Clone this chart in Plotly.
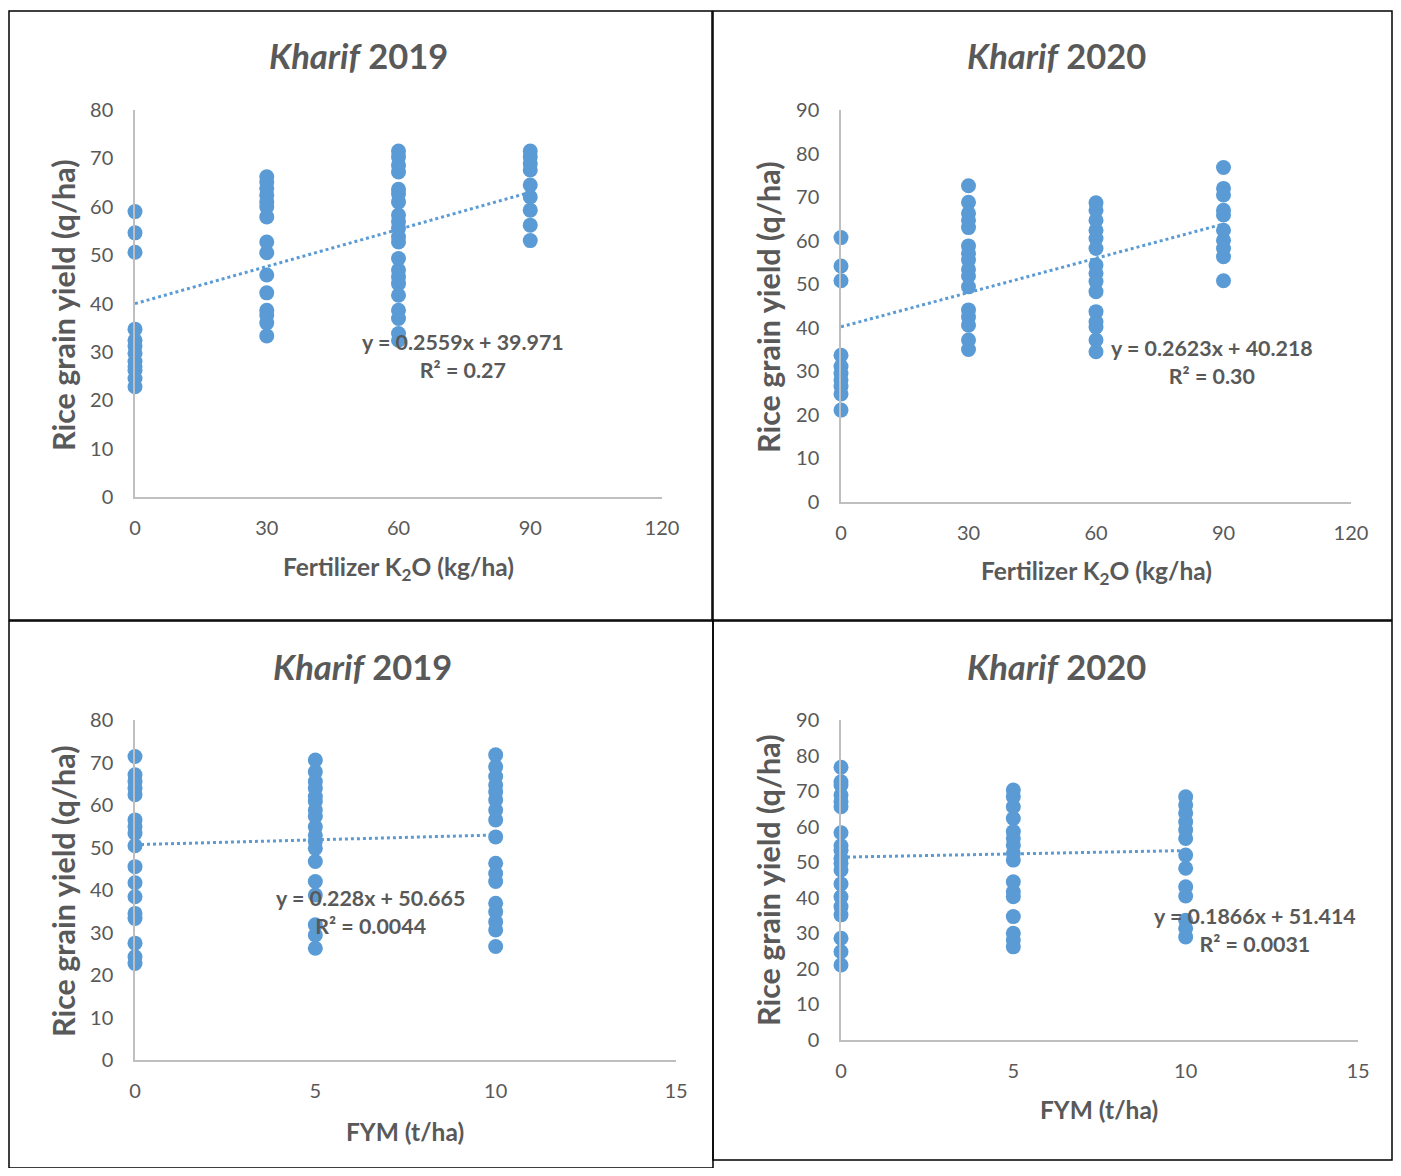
import plotly.graph_objects as go

# page body adds an 8px margin; the figure is sized so the picture fits the window
OFF = 8
W, H = 1401 - 2 * OFF, 1176 - 2 * OFF

# ---------------- data ----------------
k2019_y = {
    0: [59, 54.6, 50.6, 34.7, 32.4, 31.2, 29.7, 28, 27, 26.2, 24.5, 22.8],
    30: [66.2, 65.1, 63.8, 62.4, 61, 60, 57.9, 52.7, 50.5, 45.9, 42.2, 38.6, 37.6, 36, 33.3],
    60: [71.5, 70.3, 68.6, 67.2, 63.6, 62.7, 61, 58.3, 56.9, 55.5, 53.8, 52.7, 49.3, 46.9,
         45.5, 44.1, 41.7, 38.6, 36.9, 33.8, 32.4],
    90: [71.5, 70.3, 68.9, 67.6, 64.5, 62, 59.3, 56.2, 53],
}
k2020_y = {
    0: [60.7, 54.2, 50.8, 33.7, 31.1, 29.5, 28, 26.5, 24.8, 21.1],
    30: [72.6, 68.8, 66.3, 64.7, 63, 58.8, 57.1, 55.6, 53.4, 51.9, 49.4, 44.1, 42.5, 40.6, 37.2, 35],
    60: [68.7, 67, 64.7, 62.4, 60.5, 58.2, 54.4, 52.5, 50.6, 48.3, 43.7, 41.4, 40.2, 37.2, 34.5],
    90: [76.8, 72, 70.5, 67, 65.9, 62.4, 60.1, 58.2, 56.3, 50.8],
}
f2019_y = {
    0: [71.4, 67.1, 65.5, 63.9, 62.4, 56.5, 54.9, 53.3, 50.4, 45.5, 41.7, 38.4, 34.5, 33.3,
        27.5, 24.3, 22.7],
    5: [70.6, 67.8, 65.5, 63.9, 62, 60.8, 58.8, 57.3, 54.9, 52.9, 51.4, 49.8, 46.7, 42,
        38.8, 31.8, 29.4, 26.3],
    10: [71.8, 69, 66.7, 64.7, 63.1, 61.2, 58.8, 56.5, 52.5, 46.3, 43.9, 42, 36.9, 34.9,
         32.5, 30.6, 26.7],
}
f2020_y = {
    0: [76.7, 72.6, 71.7, 68.9, 67, 65.6, 58.3, 54.6, 53.4, 51.1, 49.7, 47.8, 43.9, 40.3,
        37.5, 35.2, 28.6, 24.8, 21.1],
    5: [70.3, 68.4, 65.6, 62.3, 58.6, 56.7, 54.8, 52.5, 50.6, 44.5, 41.7, 40.3, 34.7, 30,
        28.1, 26.2],
    10: [68.4, 66.1, 63.8, 61.4, 59.1, 56.7, 52, 48.3, 43.1, 40.5, 33.7, 31.4, 29],
}

# trendline equations (slope, intercept) and R²
trend_k2019 = (0.2559, 39.971, "0.27")
trend_k2020 = (0.2623, 40.218, "0.30")
trend_f2019 = (0.228, 50.665, "0.0044")
trend_f2020 = (0.1866, 51.414, "0.0031")

k2o_ticks = [0, 30, 60, 90, 120]
fym_ticks = [0, 5, 10, 15]

# ---------------- helpers ----------------
def px(x):
    return (x - OFF) / W

def py(y):
    return 1 - (y - OFF) / H

BLUE = "#5B9BD5"
GRAY_TXT = "#595959"
FONT = "Lato, Carlito, Calibri, sans-serif"

fig = go.Figure()

panels = [
    dict(data=k2019_y, trend=trend_k2019, ticks=k2o_ticks, xmax=120, ymax=80,
         xd=(135, 662), yd=(110, 497), title="<i>Kharif</i> 2019",
         xt="Fertilizer K<sub>2</sub>O (kg/ha)", tx=358, ty=55, xtx=398, xty=568,
         ytx=63, yty=305, eqx=463, eqy=356, xmaxfit=90),
    dict(data=k2020_y, trend=trend_k2020, ticks=k2o_ticks, xmax=120, ymax=90,
         xd=(841, 1351), yd=(110, 502), title="<i>Kharif</i> 2020",
         xt="Fertilizer K<sub>2</sub>O (kg/ha)", tx=1056, ty=55, xtx=1096, xty=573,
         ytx=768, yty=307, eqx=1212, eqy=362, xmaxfit=90),
    dict(data=f2019_y, trend=trend_f2019, ticks=fym_ticks, xmax=15, ymax=80,
         xd=(135, 676), yd=(720, 1060), title="<i>Kharif</i> 2019",
         xt="FYM (t/ha)", tx=362, ty=666, xtx=405, xty=1131,
         ytx=63, yty=891, eqx=370, eqy=912, xmaxfit=10),
    dict(data=f2020_y, trend=trend_f2020, ticks=fym_ticks, xmax=15, ymax=90,
         xd=(841, 1358), yd=(720, 1040), title="<i>Kharif</i> 2020",
         xt="FYM (t/ha)", tx=1056, ty=666, xtx=1099, xty=1109,
         ytx=768, yty=880, eqx=1255, eqy=930, xmaxfit=10),
]

annotations = []
for i, p in enumerate(panels, start=1):
    xa = "x" if i == 1 else f"x{i}"
    ya = "y" if i == 1 else f"y{i}"
    xs, ys = [], []
    for lvl, vals in p["data"].items():
        xs += [lvl] * len(vals)
        ys += vals
    slope, icpt, r2 = p["trend"]
    fx = [0, p["xmaxfit"]]
    fy = [icpt + slope * v for v in fx]
    fig.add_trace(go.Scatter(x=fx, y=fy, mode="lines", xaxis=xa, yaxis=ya,
                             line=dict(color=BLUE, width=3, dash="dot"),
                             hoverinfo="skip", showlegend=False, cliponaxis=False))
    fig.add_trace(go.Scatter(x=xs, y=ys, mode="markers", xaxis=xa, yaxis=ya,
                             marker=dict(color=BLUE, size=15, line=dict(width=0)),
                             showlegend=False, cliponaxis=False))
    axkey = "xaxis" if i == 1 else f"xaxis{i}"
    aykey = "yaxis" if i == 1 else f"yaxis{i}"
    fig.update_layout(**{
        axkey: dict(domain=[px(p["xd"][0]), px(p["xd"][1])], range=[0, p["xmax"]],
                    tickvals=p["ticks"], showgrid=False, zeroline=False,
                    showline=True, linecolor="#BFBFBF", linewidth=1.5,
                    tickfont=dict(family=FONT, size=20, color=GRAY_TXT),
                    ticklabelstandoff=12, anchor=ya, fixedrange=True, automargin=False),
        aykey: dict(domain=[py(p["yd"][1]), py(p["yd"][0])], range=[0, p["ymax"]],
                    dtick=10, showgrid=False, zeroline=False,
                    showline=True, linecolor="#BFBFBF", linewidth=1.5,
                    tickfont=dict(family=FONT, size=20, color=GRAY_TXT),
                    ticklabelstandoff=16, anchor=xa, fixedrange=True, automargin=False),
    })
    annotations.append(dict(x=px(p["tx"]), y=py(p["ty"]), xref="paper", yref="paper",
                            xanchor="center", yanchor="middle",
                            text=f"<b>{p['title']}</b>", showarrow=False,
                            font=dict(family=FONT, size=34.5, color=GRAY_TXT)))
    annotations.append(dict(x=px(p["xtx"]), y=py(p["xty"]), xref="paper", yref="paper",
                            xanchor="center", yanchor="middle",
                            text=f"<b>{p['xt']}</b>", showarrow=False,
                            font=dict(family=FONT, size=24.5, color=GRAY_TXT)))
    annotations.append(dict(x=px(p["ytx"]), y=py(p["yty"]), xref="paper", yref="paper",
                            xanchor="center", yanchor="middle",
                            text="<b>Rice grain yield (q/ha)</b>", showarrow=False,
                            textangle=-90,
                            font=dict(family=FONT, size=30.5, color=GRAY_TXT)))
    sign = "+" if icpt >= 0 else "-"
    annotations.append(dict(x=px(p["eqx"]), y=py(p["eqy"]), xref="paper", yref="paper",
                            xanchor="center", yanchor="middle",
                            text=f"<b>y = {slope}x {sign} {abs(icpt)}<br>R² = {r2}</b>",
                            showarrow=False, align="center",
                            font=dict(family=FONT, size=21.4, color=GRAY_TXT)))

# panel borders
shapes = []
boxes = [(9, 11, 712, 620), (713, 11, 1392, 620), (9, 621, 713, 1168), (713, 621, 1392, 1160)]
for (x0, y0, x1, y1) in boxes:
    shapes.append(dict(type="rect", xref="paper", yref="paper",
                       x0=px(x0), x1=px(x1), y0=py(y1), y1=py(y0),
                       line=dict(color="#000000", width=1.5), fillcolor="rgba(0,0,0,0)",
                       layer="below"))

fig.update_layout(width=W, height=H,
                  margin=dict(l=0, r=0, t=0, b=0, pad=0, autoexpand=False),
                  paper_bgcolor="white", plot_bgcolor="white",
                  annotations=annotations, shapes=shapes,
                  font=dict(family=FONT))
fig.write_html("out.html", config={"responsive": False})
